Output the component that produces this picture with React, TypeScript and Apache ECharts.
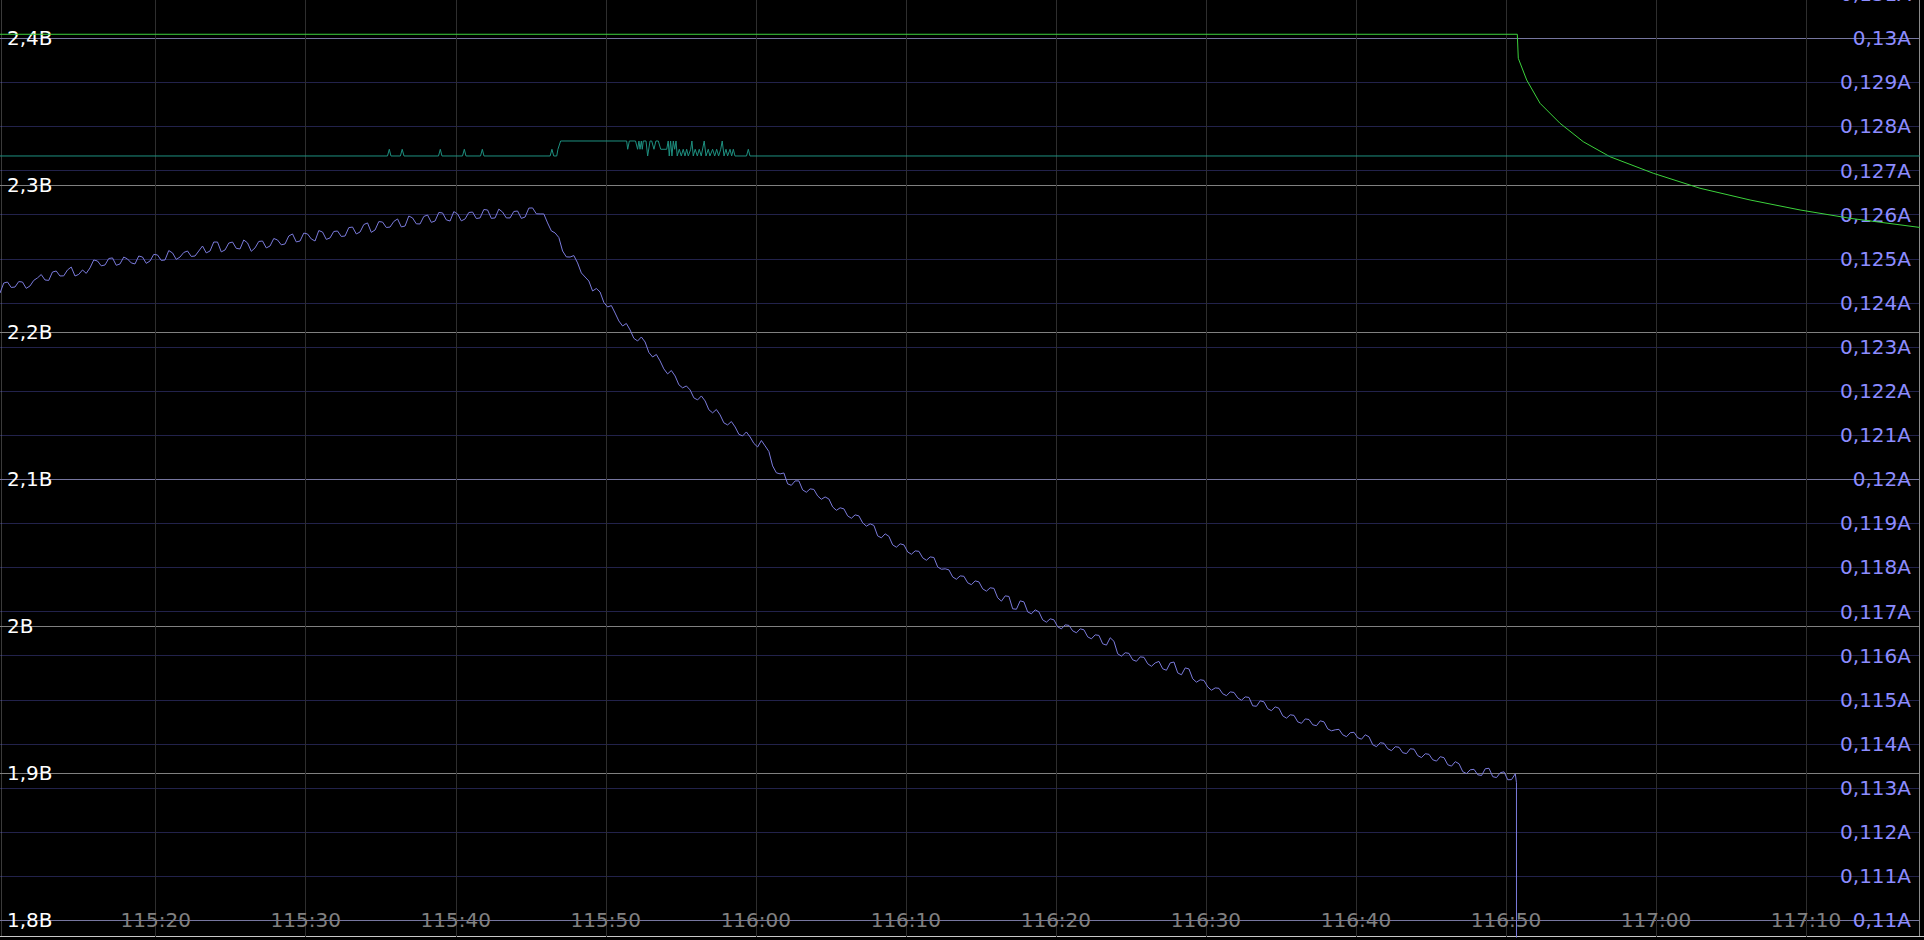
import React, { useEffect, useRef } from 'react';
import * as echarts from 'echarts';

// ---- axes ----
const X_MIN = 6909.622; // seconds (115:09.6)
const X_MAX = 7037.529;
const X_TICKS = [6920, 6930, 6940, 6950, 6960, 6970, 6980, 6990, 7000, 7010, 7020, 7030];

const V_MIN = 1.788639;
const V_MAX = 2.426054;
const V_TICKS = [1.8, 1.9, 2.0, 2.1, 2.2, 2.3, 2.4];

const A_MIN = 0.109621;
const A_MAX = 0.130868;
const A_TICKS = [
  0.11, 0.111, 0.112, 0.113, 0.114, 0.115, 0.116, 0.117, 0.118, 0.119, 0.12,
  0.121, 0.122, 0.123, 0.124, 0.125, 0.126, 0.127, 0.128, 0.129, 0.13,
];
const A_TOP_LABEL = '0,131A';

// ---- voltage (B): samples every 0.5 s, plus the in-between samples (+0.25 s) ----
const voltageStart = 6909.62;
const voltageStep = 0.5;
const voltageValues = [
  2.2267, 2.2342, 2.2308, 2.2342, 2.2315, 2.2370, 2.2356, 2.2410, 2.2383, 2.2424,
  2.2383, 2.2424, 2.2438, 2.2485, 2.2458, 2.2506, 2.2465, 2.2499, 2.2465, 2.2512,
  2.2485, 2.2526, 2.2492, 2.2540, 2.2512, 2.2553, 2.2519, 2.2587, 2.2553, 2.2614,
  2.2560, 2.2614, 2.2567, 2.2608, 2.2574, 2.2621, 2.2587, 2.2628, 2.2601, 2.2669,
  2.2621, 2.2669, 2.2621, 2.2682, 2.2642, 2.2689, 2.2655, 2.2716, 2.2682, 2.2744,
  2.2696, 2.2750, 2.2716, 2.2771, 2.2723, 2.2778, 2.2737, 2.2798, 2.2757, 2.2812,
  2.2757, 2.2805, 2.2771, 2.2818, 2.2778, 2.2832, 2.2778, 2.2818, 2.2778, 2.2825,
  2.2784, 2.2846, 2.2805, 2.2744, 2.2676, 2.2553, 2.2512, 2.2472, 2.2376, 2.2281,
  2.2274, 2.2172, 2.2131, 2.2043, 2.2016, 2.1941, 2.1934, 2.1832, 2.1805, 2.1717,
  2.1703, 2.1622, 2.1608, 2.1540, 2.1533, 2.1452, 2.1438, 2.1370, 2.1356, 2.1295,
  2.1288, 2.1220, 2.1227, 2.1091, 2.1037, 2.0969, 2.0989, 2.0928, 2.0935, 2.0887,
  2.0880, 2.0812, 2.0806, 2.0751, 2.0758, 2.0704, 2.0697, 2.0615, 2.0629, 2.0554,
  2.0561, 2.0506, 2.0513, 2.0466, 2.0472, 2.0404, 2.0391, 2.0336, 2.0343, 2.0296,
  2.0309, 2.0255, 2.0262, 2.0194, 2.0207, 2.0119, 2.0173, 2.0098, 2.0112, 2.0044,
  2.0051, 1.9996, 2.0010, 1.9969, 1.9983, 1.9928, 1.9942, 1.9881, 1.9922, 1.9813,
  1.9820, 1.9772, 1.9792, 1.9745, 1.9751, 1.9711, 1.9751, 1.9683, 1.9717, 1.9643,
  1.9636, 1.9588, 1.9581, 1.9541, 1.9554, 1.9513, 1.9520, 1.9459, 1.9493, 1.9439,
  1.9452, 1.9391, 1.9398, 1.9350, 1.9370, 1.9330, 1.9357, 1.9302, 1.9296, 1.9262,
  1.9276, 1.9242, 1.9262, 1.9194, 1.9208, 1.9167, 1.9181, 1.9140, 1.9167, 1.9120,
  1.9133, 1.9092, 1.9113, 1.9058, 1.9079, 1.9011, 1.9024, 1.8990, 1.9031, 1.8977,
  1.9004, 1.8956, 1.8997,
];
const voltageMidValues = [
  2.2335, 2.2305, 2.2345, 2.2299, 2.2353, 2.2393, 2.2353, 2.2417, 2.2384, 2.2444,
  2.2394, 2.2401, 2.2492, 2.2452, 2.2502, 2.2456, 2.2512, 2.2472, 2.2519, 2.2469,
  2.2530, 2.2489, 2.2556, 2.2496, 2.2543, 2.2516, 2.2553, 2.2540, 2.2614, 2.2547,
  2.2607, 2.2571, 2.2628, 2.2551, 2.2618, 2.2574, 2.2638, 2.2595, 2.2655, 2.2615,
  2.2675, 2.2635, 2.2692, 2.2632, 2.2686, 2.2652, 2.2712, 2.2669, 2.2733, 2.2680,
  2.2753, 2.2713, 2.2754, 2.2717, 2.2791, 2.2738, 2.2788, 2.2748, 2.2815, 2.2765,
  2.2821, 2.2758, 2.2815, 2.2774, 2.2835, 2.2775, 2.2838, 2.2778, 2.2822, 2.2775,
  2.2845, 2.2806, 2.2805, 2.2690, 2.2645, 2.2513, 2.2522, 2.2404, 2.2349, 2.2298,
  2.2203, 2.2182, 2.2077, 2.2060, 2.1959, 2.1968, 2.1863, 2.1849, 2.1751, 2.1740,
  2.1643, 2.1635, 2.1554, 2.1567, 2.1473, 2.1475, 2.1384, 2.1393, 2.1306, 2.1322,
  2.1244, 2.1264, 2.1189, 2.1044, 2.1043, 2.0959, 2.0989, 2.0912, 2.0931, 2.0864,
  2.0866, 2.0789, 2.0799, 2.0735, 2.0751, 2.0681, 2.0686, 2.0602, 2.0612, 2.0538,
  2.0554, 2.0490, 2.0510, 2.0449, 2.0468, 2.0388, 2.0384, 2.0320, 2.0340, 2.0283,
  2.0302, 2.0239, 2.0258, 2.0171, 2.0203, 2.0116, 2.0166, 2.0085, 2.0098, 2.0028,
  2.0044, 1.9983, 2.0006, 1.9956, 1.9976, 1.9915, 1.9938, 1.9872, 1.9898, 1.9797,
  1.9816, 1.9762, 1.9789, 1.9728, 1.9761, 1.9701, 1.9757, 1.9670, 1.9710, 1.9620,
  1.9632, 1.9565, 1.9578, 1.9528, 1.9550, 1.9497, 1.9516, 1.9456, 1.9486, 1.9426,
  1.9442, 1.9375, 1.9394, 1.9340, 1.9366, 1.9324, 1.9350, 1.9289, 1.9299, 1.9249,
  1.9279, 1.9232, 1.9248, 1.9181, 1.9204, 1.9154, 1.9177, 1.9134, 1.9164, 1.9107,
  1.9129, 1.9083, 1.9106, 1.9049, 1.9065, 1.8998, 1.9027, 1.8985, 1.9034, 1.8971,
  1.9010, 1.8957,
];
const voltageEndTimes = [7010.70, 7010.71];
const voltageEndValues = [1.8936, 0];

// ---- current (A), green ----
const currentTimes = [
  6909.62, 7010.755, 7010.82, 7011.38, 7012.27, 7013.60, 7015.15, 7016.93,
  7019.82, 7022.93, 7026.27, 7029.60, 7032.93, 7037.60,
];
const currentValues = [
  0.130091, 0.130091, 0.129546, 0.129054, 0.128526, 0.128073, 0.127655, 0.127315,
  0.126939, 0.126599, 0.126333, 0.126107, 0.125918, 0.125710,
];

// ---- teal signal ----
const TB = 0.127331;
const TS = 0.127483;
const TH = 0.127671;
const tealTimes = [
  6909.62,
  6935.45, 6935.57, 6935.68,
  6936.31, 6936.43, 6936.55,
  6938.85, 6938.97, 6939.08,
  6940.45, 6940.57, 6940.68,
  6941.65, 6941.77, 6941.88,
  6946.29, 6946.41, 6946.53,
  6946.73, 6946.81, 6946.99,
  6951.39, 6951.46, 6951.57,
  6951.98, 6952.12, 6952.21, 6952.28, 6952.37, 6952.43, 6952.50,
  6952.68, 6952.79, 6952.95, 6953.06, 6953.21, 6953.34, 6953.50, 6953.66,
  6954.06, 6954.16, 6954.23, 6954.32, 6954.41, 6954.50, 6954.59, 6954.68, 6954.76,
  6954.90, 6955.03, 6955.16, 6955.28, 6955.39, 6955.50, 6955.66, 6955.74, 6955.83,
  6955.96, 6956.10, 6956.23, 6956.36, 6956.56, 6956.68, 6956.83, 6956.94, 6957.12,
  6957.26, 6957.39, 6957.52, 6957.66, 6957.76, 6957.88, 6958.01, 6958.12, 6958.28,
  6958.39, 6958.50, 6958.61,
  6959.38, 6959.50, 6959.61,
  7040,
];
const tealValues = [
  TB,
  TB, TS, TB,
  TB, TS, TB,
  TB, TS, TB,
  TB, TS, TB,
  TB, TS, TB,
  TB, TS, TB,
  TB, TS, TH,
  TH, TS, TH,
  TH, TS, TH, TS, TH, TS, TH,
  TH, TB, TH, TH, TS, TH, TH, TS,
  TS, TH, TB, TH, TB, TH, TS, TH, TB,
  TS, TB, TS, TB, TS, TB, TS, TH, TB,
  TS, TB, TS, TB, TH, TB, TS, TB, TS,
  TB, TS, TB, TS, TH, TB, TS, TB, TS,
  TB, TS, TB,
  TB, TS, TB,
  TB,
];

const FONT = '"DejaVu Sans", Verdana, sans-serif';

function fmtTime(v: number) {
  const s = Math.round(v);
  const m = Math.floor(s / 60);
  const r = s % 60;
  return m + ':' + (r < 10 ? '0' + r : String(r));
}
function fmtV(v: number) {
  return String(Math.round(v * 10) / 10).replace('.', ',') + 'B';
}
function fmtA(v: number) {
  return String(Math.round(v * 1000) / 1000).replace('.', ',') + 'A';
}

export default function App() {
  const ref = useRef<HTMLDivElement>(null);
  useEffect(() => {
    document.body.style.margin = '0';
    document.body.style.background = '#000';
    const chart = echarts.init(ref.current as HTMLDivElement, null, { renderer: 'svg' });

    const voltageData: number[][] = [];
    voltageValues.forEach((v, i) => {
      const t = voltageStart + i * voltageStep;
      voltageData.push([t, v]);
      if (i < voltageMidValues.length) voltageData.push([t + voltageStep / 2, voltageMidValues[i]]);
    });
    voltageEndTimes.forEach((t, i) => voltageData.push([t, voltageEndValues[i]]));
    const currentData = currentTimes.map((t, i) => [t, currentValues[i]]);
    const tealData = tealTimes.map((t, i) => [t, tealValues[i]]);

    const option: any = {
      animation: false,
      backgroundColor: '#000000',
      grid: { left: 0, right: 5, top: 0, bottom: 3, containLabel: false, outerBoundsMode: 'none' },
      xAxis: {
        type: 'value',
        min: X_MIN,
        max: X_MAX,
        axisLine: { show: false },
        axisTick: { show: false, customValues: X_TICKS },
        axisLabel: {
          show: true,
          inside: true,
          margin: 7,
          customValues: X_TICKS,
          color: '#808080',
          fontSize: 20,
          fontFamily: FONT,
          formatter: fmtTime,
        },
        splitLine: { show: true, lineStyle: { color: '#2e2e2e', width: 1 } },
      },
      yAxis: [
        {
          type: 'value',
          position: 'left',
          min: V_MIN,
          max: V_MAX,
          axisLine: { show: false },
          axisTick: { show: false, customValues: V_TICKS },
          axisLabel: {
            show: true,
            inside: true,
            margin: 7,
            customValues: V_TICKS,
            color: '#ffffff',
            fontSize: 20,
            fontFamily: FONT,
            formatter: fmtV,
          },
          splitLine: { show: true, lineStyle: { color: '#808080', width: 1 } },
        },
        {
          type: 'value',
          position: 'right',
          min: A_MIN,
          max: A_MAX,
          axisLine: { show: false },
          axisTick: { show: false, customValues: A_TICKS },
          axisLabel: {
            show: true,
            inside: true,
            margin: 8,
            customValues: A_TICKS,
            color: '#8c8cff',
            fontSize: 20,
            fontFamily: FONT,
            formatter: fmtA,
          },
          splitLine: { show: true, lineStyle: { color: 'rgba(100,100,220,0.34)', width: 1 } },
        },
      ],
      graphic: [
        { type: 'line', silent: true, shape: { x1: 1.5, y1: 0, x2: 1.5, y2: 937 }, style: { stroke: '#3a3a3a', lineWidth: 1 } },
        { type: 'line', silent: true, shape: { x1: 1919.5, y1: 0, x2: 1919.5, y2: 937 }, style: { stroke: '#8a8a8a', lineWidth: 1 } },
        { type: 'line', silent: true, shape: { x1: 0, y1: 936.5, x2: 1924, y2: 936.5 }, style: { stroke: '#c8c8c8', lineWidth: 1 } },
        {
          type: 'text',
          silent: true,
          x: 1911,
          y: -5.8,
          style: { text: A_TOP_LABEL, fill: '#8c8cff', font: '20px ' + FONT, textAlign: 'right', textVerticalAlign: 'middle', verticalAlign: 'middle' },
        },
      ],
      series: [
        {
          type: 'line',
          name: 'current',
          yAxisIndex: 1,
          data: currentData,
          showSymbol: false,
          symbol: 'none',
          silent: true,
          lineStyle: { color: '#3cd23c', width: 1 },
        },
        {
          type: 'line',
          name: 'teal',
          yAxisIndex: 1,
          data: tealData,
          showSymbol: false,
          symbol: 'none',
          silent: true,
          lineStyle: { color: '#1e9080', width: 1 },
        },
        {
          type: 'line',
          name: 'voltage',
          yAxisIndex: 0,
          data: voltageData,
          showSymbol: false,
          symbol: 'none',
          silent: true,
          lineStyle: { color: '#7b7bdc', width: 1 },
        },
      ],
    };
    chart.setOption(option);
    return () => chart.dispose();
  }, []);
  return (
    <div
      ref={ref}
      style={{ position: 'fixed', left: 0, top: 0, width: 1924, height: 940, background: '#000' }}
    />
  );
}
